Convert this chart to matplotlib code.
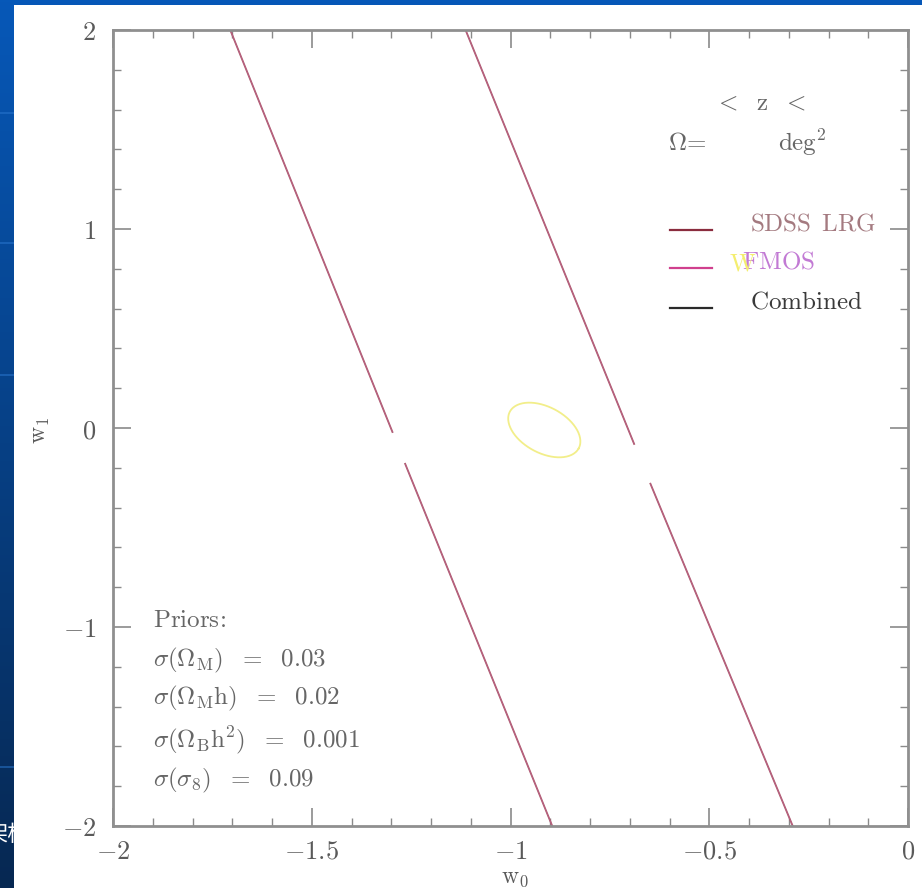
import matplotlib.pyplot as plt
import matplotlib.patches as mpatches
from matplotlib.ticker import MultipleLocator, FuncFormatter
import numpy as np

# ----------------------------------------------------
# Data
# ----------------------------------------------------
# two nearly degenerate contour edges (w0 at given w1); NaN = gap in the scan
w1_left = [2.0, -0.02, np.nan, -0.18, -2.0]
w0_left = [-1.705, -1.297, np.nan, -1.265, -0.895]
w1_right = [2.0, -0.08, np.nan, -0.28, -2.0]
w0_right = [-1.113, -0.689, np.nan, -0.648, -0.29]

# combined (yellow) ellipse: centre, semi-axes in pixels and tilt
ell_center = (-0.915, -0.01)
ell_semi_px = (39, 23)
ell_angle_deg = -28

x_ticks = [-2, -1.5, -1, -0.5, 0]
y_ticks = [-2, -1, 0, 1, 2]

legend_names = ["SDSS LRG", "FMOS", "Combined"]
legend_line_colors = ["#8a2c3e", "#d0408e", "#2a2a2a"]
legend_text_colors = ["#a47a80", "#c27ad4", "#3a3a3a"]

priors = [r"$\sigma(\Omega_{\rm M})\ \ =\ \ 0.03$",
          r"$\sigma(\Omega_{\rm M}{\rm h})\ \ =\ \ 0.02$",
          r"$\sigma(\Omega_{\rm B}{\rm h}^2)\ \ =\ \ 0.001$",
          r"$\sigma(\sigma_8)\ \ =\ \ 0.09$"]

plt.rcParams['mathtext.fontset'] = 'cm'
plt.rcParams['font.family'] = ['DejaVu Serif', 'Noto Sans CJK SC']

W, H = 922, 888
fig = plt.figure(figsize=(W / 100, H / 100), dpi=100)

# slide background: blue gradient + white panel
bg = fig.add_axes([0, 0, 1, 1])
bg.set_axis_off()
grad = np.linspace(0, 1, 256).reshape(-1, 1)
top = np.array([0x06, 0x58, 0xb8]) / 255
bot = np.array([0x07, 0x28, 0x52]) / 255
img = top[None, None, :] * (1 - grad[:, :, None]) + bot[None, None, :] * grad[:, :, None]
bg.imshow(img, extent=[0, 1, 0, 1], aspect='auto', zorder=0)
for yy in [1 - 113 / H, 1 - 243 / H, 1 - 375 / H, 1 - 767 / H]:
    bg.plot([0, 1], [yy, yy], color="#2a78d0", linewidth=1.2, alpha=0.6, zorder=1)
bg.text(-15 / W, 1 - 834 / H, "架构", color="white", fontsize=16,
        family=['Noto Sans CJK SC', 'DejaVu Sans'], va='center', ha='left', zorder=2)
bg.add_patch(mpatches.Rectangle((14 / W, 0), 1, 1 - 5 / H, facecolor="white",
                                edgecolor="none", zorder=3))
bg.set_xlim(0, 1)
bg.set_ylim(0, 1)

# main plot
L, R, T, B = 113, 908, 30, 826
ax = fig.add_axes([L / W, 1 - B / H, (R - L) / W, (B - T) / H])
ax.set_xlim(-2, 0)
ax.set_ylim(-2, 2)

ax.plot(w0_left, w1_left, color="#a8566a", linewidth=1.3)
ax.plot(w0_right, w1_right, color="#a8566a", linewidth=1.3)
ax.plot(w0_left, w1_left, color="#d070a0", linewidth=0.6, alpha=0.5)
ax.plot(w0_right, w1_right, color="#d070a0", linewidth=0.6, alpha=0.5)

# ellipse drawn in display-scaled units
px_x = (R - L) / 2.0
px_y = (B - T) / 4.0
t = np.linspace(0, 2 * np.pi, 200)
th = np.deg2rad(ell_angle_deg)
a, b = ell_semi_px
ex = ell_center[0] + (a * np.cos(t) * np.cos(th) - b * np.sin(t) * np.sin(th)) / px_x
ey = ell_center[1] + (a * np.cos(t) * np.sin(th) + b * np.sin(t) * np.cos(th)) / px_y
ax.plot(ex, ey, color="#f2ee8a", linewidth=1.3)

# ticks
tick_col = "#8a8a8a"
ax.set_xticks(x_ticks)
ax.set_yticks(y_ticks)
ax.xaxis.set_minor_locator(MultipleLocator(0.1))
ax.yaxis.set_minor_locator(MultipleLocator(0.2))
fmt = FuncFormatter(lambda v, p: r"$%g$" % v)
ax.xaxis.set_major_formatter(fmt)
ax.yaxis.set_major_formatter(fmt)
ax.tick_params(which='both', direction='in', top=True, right=True, color=tick_col)
ax.tick_params(which='major', length=13, width=1.2, labelsize=19, labelcolor="#5a5a5a")
ax.tick_params(axis='x', which='major', pad=9)
ax.tick_params(axis='y', which='major', pad=12)
ax.tick_params(which='minor', length=6, width=1.0)
for s in ax.spines.values():
    s.set_color("#8f8f8f")
    s.set_linewidth(2)

ax.set_xlabel(r"$\rm w_0$", fontsize=17, color="#5a5a5a")
ax.set_ylabel(r"$\rm w_1$", fontsize=17, color="#5a5a5a")
ax.xaxis.set_label_coords((515 - L) / (R - L), (B - 866) / (B - T))
ax.yaxis.set_label_coords((52 - L) / (R - L), (B - 430) / (B - T))

def axp(px, py):
    return (px - L) / (R - L), (B - py) / (B - T)

FS = 18
# redshift/area box (values blanked out in the original)
x0, y0 = axp(760, 103)
ax.text(x0, y0, r"$<\ \ {\rm z}\ \ <$", transform=ax.transAxes, fontsize=FS,
        color="#666666", ha='center', va='center')
x0, y0 = axp(668, 143)
ax.text(x0, y0, r"$\Omega\!=$", transform=ax.transAxes, fontsize=FS,
        color="#666666", ha='left', va='center')
x0, y0 = axp(778, 143)
ax.text(x0, y0, r"${\rm deg}^2$", transform=ax.transAxes, fontsize=FS,
        color="#666666", ha='left', va='center')

# legend by hand
leg_y = [230, 268, 308]
for name, lc, tc, py in zip(legend_names, legend_line_colors, legend_text_colors, leg_y):
    xa, ya = axp(670, py)
    xb, _ = axp(712, py)
    ax.plot([xa, xb], [ya, ya], color=lc, linewidth=1.6, transform=ax.transAxes)
    tx = 742 if name == "FMOS" else 750
    xt, yt = axp(tx, py - 6)
    ax.text(xt, yt, r"$\rm %s$" % name.replace(" ", r"\ \,"), transform=ax.transAxes,
            fontsize=FS, color=tc, ha='left', va='center')
xw, yw = axp(729, 264)
ax.text(xw, yw, r"$\rm W$", transform=ax.transAxes, fontsize=FS,
        color="#f4ee70", ha='left', va='center')

# priors block
xp, yp = axp(153, 620)
ax.text(xp, yp, r"$\rm Priors\!:$", transform=ax.transAxes, fontsize=FS,
        color="#666666", ha='left', va='center')
for txt, py in zip(priors, [660, 698, 740, 780]):
    xp, yp = axp(153, py)
    ax.text(xp, yp, txt, transform=ax.transAxes, fontsize=FS,
            color="#666666", ha='left', va='center')

fig.savefig("out.png", dpi=100)
